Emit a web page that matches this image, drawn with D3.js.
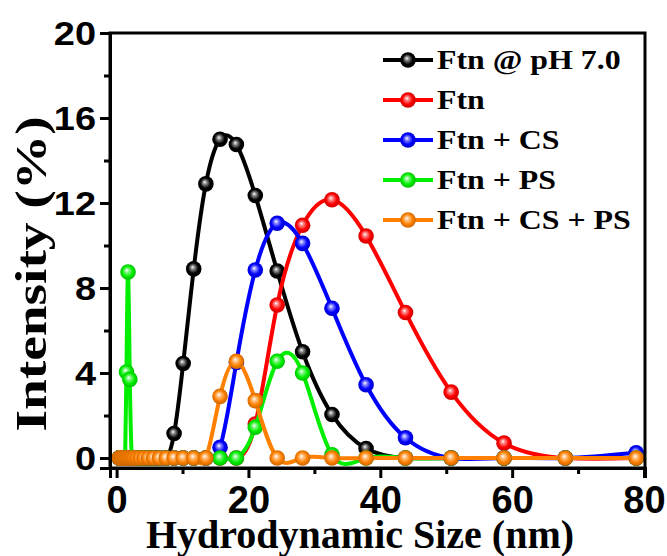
<!DOCTYPE html>
<html><head><meta charset="utf-8">
<script src="https://cdn.jsdelivr.net/npm/d3@7"></script>
<style>body{margin:0;background:#fff}svg{display:block}</style>
</head><body><svg id="c" width="667" height="556"></svg>
<script>
const sizes = [0.4,0.4632,0.5365,0.6213,0.7195,0.8332,0.9649,1.117,1.294,1.499,1.736,2.01,2.328,2.696,3.122,3.615,4.187,4.849,5.615,6.503,7.531,8.721,10.1,11.7,13.54,15.69,18.17,21.04,24.36,28.21,32.67,37.84,43.82,50.75,58.77,68.06,78.82];
const ftnPH7   = [0,0,0,0,0,0,0,0,0,0,0,0,0,0,0,0,0,0,0,0,0, 1.15,4.45,8.9,12.9,15.0,14.75,12.35,8.8,5.0,2.05,0.45,0,0,0,0,0];
const ftn      = [0,0,0,0,0,0,0,0,0,0,0,0,0,0,0,0,0,0,0,0,0, 0,0,0,0,0,0,1.6,7.2,10.95,12.15,10.45,6.85,3.1,0.7,0,0];
const ftnCS    = [0,0,0,0,0,0,0,0,0,0,0,0,0,0,0,0,0,0,0,0,0, 0,0,0,0,0.5,4.5,8.85,11.05,10.1,7.05,3.45,0.95,0,0,0,0.25];
const ftnPS    = [0,0,0,0,0,0,0,0,0,4.05,8.75,3.7,0,0,0,0,0,0,0,0,0, 0,0,0,0,0,0,1.45,4.55,4.0,0.15,0,0,0,0,0,0];
const ftnCSPS  = [0,0,0,0,0,0,0,0,0,0,0,0,0,0,0,0,0,0,0,0,0, 0,0,0,0,2.9,4.55,2.7,0,0,0,0,0,0,0,0,0];
const seriesNames = ["Ftn @ pH 7.0","Ftn","Ftn + CS","Ftn + PS","Ftn + CS + PS"];
const seriesValues = [ftnPH7, ftn, ftnCS, ftnPS, ftnCSPS];
const colors = ["#000000","#ff0000","#0000ff","#00ee00","#ff8000"];
const xTicks = [0,20,40,60,80];
const xMinor = [10,30,50,70];
const yTicks = [0,4,8,12,16,20];
const yMinor = [2,6,10,14,18];

const svg = d3.select("#c");
const L=110, R=645, T=33, B=468;
const x = d3.scaleLinear().domain([-1,80.15]).range([L,R]);
const y = d3.scaleLinear().domain([-0.47,20]).range([B,T]);

const defs = svg.append("defs");
colors.forEach((c,i)=>{
  const g = defs.append("radialGradient").attr("id","g"+i)
    .attr("cx","50%").attr("cy","50%").attr("r","55%").attr("fx","42%").attr("fy","38%");
  const white = d3.interpolateRgb(c,"#ffffff");
  const dark = d3.interpolateRgb(c,"#000000");
  g.append("stop").attr("offset","0%").attr("stop-color","#ffffff");
  g.append("stop").attr("offset","22%").attr("stop-color",white(0.55));
  g.append("stop").attr("offset","60%").attr("stop-color",c);
  g.append("stop").attr("offset","100%").attr("stop-color",i===0?"#000":dark(0.25));
});

const line = d3.line().x((d,i)=>x(sizes[i])).y(d=>y(d)).curve(d3.curveNatural);
const plot = svg.append("g");
seriesValues.forEach((vals,si)=>{
  plot.append("path").attr("d",line(vals)).attr("fill","none")
    .attr("stroke",colors[si]).attr("stroke-width",4).attr("stroke-linejoin","round");
  plot.selectAll(null).data(vals).enter().append("circle")
    .attr("cx",(d,i)=>x(sizes[i])).attr("cy",d=>y(d)).attr("r",7.8)
    .attr("fill","url(#g"+si+")");
});

// frame
svg.append("rect").attr("x",L).attr("y",T).attr("width",R-L).attr("height",B-T)
  .attr("fill","none").attr("stroke","#000").attr("stroke-width",3);

// axes
const xAxis = d3.axisBottom(x).tickValues(xTicks).tickSize(10).tickFormat(d3.format("d"));
const gx = svg.append("g").attr("transform",`translate(0,${B})`).call(xAxis);
const gxm = svg.append("g").attr("transform",`translate(0,${B})`).call(d3.axisBottom(x).tickValues(xMinor).tickSize(6).tickFormat(""));
const yAxis = d3.axisLeft(y).tickValues(yTicks).tickSize(10).tickFormat(d3.format("d"));
const gy = svg.append("g").attr("transform",`translate(${L},0)`).call(yAxis);
const gym = svg.append("g").attr("transform",`translate(${L},0)`).call(d3.axisLeft(y).tickValues(yMinor).tickSize(6).tickFormat(""));
[gx,gxm,gy,gym].forEach(g=>{
  g.select(".domain").attr("stroke","#000").attr("stroke-width",3);
  g.selectAll(".tick line").attr("stroke","#000").attr("stroke-width",3);
});
gx.selectAll(".tick text").attr("font-family","'Liberation Sans',Arial,sans-serif")
  .attr("font-weight","bold").attr("font-size",38).attr("fill","#000").attr("dy",0).attr("y",45);
gy.selectAll(".tick text").attr("font-family","'Liberation Sans',Arial,sans-serif")
  .attr("font-weight","bold").attr("font-size",33).attr("fill","#000").attr("x",0).attr("dy","0.35em")
  .attr("transform","translate(-14,0) scale(1.15,1)");

// titles
svg.append("text").attr("x",360).attr("y",548).attr("text-anchor","middle")
  .attr("font-family","'Liberation Serif','Times New Roman',serif").attr("font-weight","bold")
  .attr("font-size",40).text("Hydrodynamic Size (nm)");
svg.append("text").attr("transform","translate(46,274) rotate(-90) scale(1.23,1)").attr("text-anchor","middle")
  .attr("font-family","'Liberation Serif','Times New Roman',serif").attr("font-weight","bold")
  .attr("font-size",45).text("Intensity (%)");

// legend
const lg = svg.append("g");
seriesNames.forEach((n,i)=>{
  const yy = 60 + i*40;
  lg.append("line").attr("x1",383).attr("x2",433).attr("y1",yy).attr("y2",yy)
    .attr("stroke",colors[i]).attr("stroke-width",4);
  lg.append("circle").attr("cx",408).attr("cy",yy).attr("r",7.8).attr("fill","url(#g"+i+")");
  lg.append("text").attr("transform",`translate(437,${yy+9}) scale(1.18,1)`)
    .attr("font-family","'Liberation Serif','Times New Roman',serif")
    .attr("font-weight","bold").attr("font-size",27).text(n);
});
</script></body></html>
